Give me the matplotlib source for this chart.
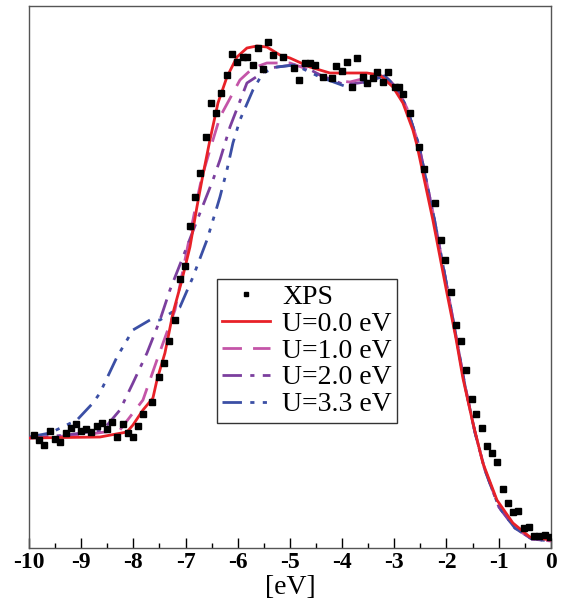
import numpy as np
import matplotlib
matplotlib.use("Agg")
from matplotlib import rcParams

rcParams['font.family'] = 'serif'
rcParams['font.serif'] = ['Liberation Serif', 'DejaVu Serif']
from matplotlib import pyplot as plt
from matplotlib.ticker import MultipleLocator

# XPS spectrum (arbitrary intensity units)
xps_e = [-9.904, -9.808, -9.713, -9.598, -9.502, -9.406, -9.291, -9.195, -9.100, -9.004,
         -8.908, -8.812, -8.697, -8.602, -8.506, -8.410, -8.314, -8.199, -8.103, -8.008,
         -7.912, -7.816, -7.644, -7.510, -7.414, -7.318, -7.203, -7.107, -7.011, -6.916,
         -6.820, -6.724, -6.609, -6.513, -6.418, -6.322, -6.207, -6.111, -6.015, -5.900,
         -5.824, -5.709, -5.613, -5.517, -5.421, -5.326, -5.134, -4.923, -4.828, -4.713,
         -4.617, -4.521, -4.368, -4.195, -4.119, -4.004, -3.908, -3.812, -3.716, -3.602,
         -3.525, -3.410, -3.333, -3.218, -3.123, -2.989, -2.912, -2.835, -2.701, -2.529,
         -2.433, -2.222, -2.107, -2.031, -1.916, -1.820, -1.724, -1.628, -1.513, -1.437,
         -1.322, -1.226, -1.130, -1.034, -0.920, -0.824, -0.728, -0.632, -0.517, -0.421,
         -0.326, -0.230, -0.115, -0.019]
xps_i = [113, 108, 103, 117, 109, 106, 115, 120, 124, 117,
         119, 116, 122, 125, 119, 126, 111, 124, 115, 111,
         122, 134, 146, 171, 185, 207, 228, 269, 282, 322,
         351, 375, 411, 445, 435, 455, 473, 494, 486, 491,
         491, 483, 500, 479, 506, 493, 491, 480, 468, 485,
         485, 483, 471, 470, 482, 477, 486, 461, 490, 471,
         465, 470, 476, 466, 476, 461, 461, 454, 435, 401,
         379, 345, 308, 288, 256, 223, 207, 178, 149, 134,
         120, 102, 95, 86, 59, 45, 36, 37, 20, 21,
         12, 12, 13, 11]

# calculated DOS, U = 0.0 eV
u0_e = [-10.0, -8.640, -8.123, -8.008, -7.816, -7.625, -7.548, -7.395, -7.241, -7.069,
        -6.916, -6.782, -6.686, -6.533, -6.379, -6.207, -6.015, -5.824, -5.632, -5.441,
        -5.192, -5.000, -4.617, -4.234, -3.851, -3.525, -3.276, -3.027, -2.835, -2.644,
        -2.567, -2.261, -1.992, -1.820, -1.686, -1.494, -1.303, -1.034, -0.728, -0.402, 0.0]
u0_i = [110, 111, 116, 123, 138, 150, 168, 195, 235, 268,
        301, 341, 368, 408, 445, 471, 491, 500, 502, 501,
        493, 490, 481, 475, 475, 475, 473, 461, 445, 418,
        403, 328, 255, 210, 170, 125, 85, 48, 25, 11, 8]

# the three U > 0 curves share the high-energy edge
edge_e = [-3.180, -2.951, -2.759, -2.529, -2.222, -1.954, -1.648, -1.456, -1.264, -0.996, -0.690, -0.364, 0.0]
edge_i = [472, 460, 440, 403, 326, 251, 163, 116, 78, 41, 20, 9, 7]

u1_e = [-10.0, -8.966, -8.257, -8.008, -7.816, -7.682, -7.548, -7.203, -7.011, -6.782,
        -6.686, -6.533, -6.341, -5.958, -5.709, -5.441, -5.000, -4.617, -4.234, -3.851, -3.467]
u1_i = [110, 113, 118, 135, 148, 168, 188, 238, 288, 348,
        371, 398, 431, 468, 480, 485, 485, 478, 468, 466, 471]

u2_e = [-10.0, -9.272, -8.582, -8.257, -8.008, -7.739, -7.490, -7.299, -7.050, -6.724,
        -6.475, -6.341, -6.149, -5.824, -5.383, -4.808, -4.425, -3.946, -3.563]
u2_i = [110, 113, 118, 138, 165, 195, 228, 258, 291, 335,
        368, 388, 421, 465, 480, 484, 473, 463, 466]

u3_e = [-10.0, -9.598, -9.080, -8.774, -8.640, -8.314, -8.008, -7.682, -7.490, -7.107,
        -6.858, -6.590, -6.398, -6.341, -6.207, -6.092, -5.958, -5.709, -5.517, -5.249,
        -4.904, -4.425, -3.851, -3.467]
u3_i = [111, 115, 128, 145, 155, 191, 218, 228, 228, 241,
        271, 308, 341, 351, 378, 405, 428, 458, 475, 481,
        483, 471, 460, 468]

xticks = list(range(-10, 1))
labels = ["XPS", "U=0.0 eV", "U=1.0 eV", "U=2.0 eV", "U=3.3 eV"]
colors = ["black", "#e82128", "#c455a8", "#7b3f9e", "#3b4fa5"]


def main():
    fig = plt.figure(figsize=(5.65, 6.06), dpi=100)
    ax = fig.add_axes([0.0513, 0.0957, 0.9237, 0.8944])

    ax.plot(xps_e, xps_i, 's', color=colors[0], markersize=5, label=labels[0], zorder=5)
    ax.plot(u0_e, u0_i, '-', color=colors[1], lw=2.0, label=labels[1], zorder=4)
    ax.plot(u1_e + edge_e, u1_i + edge_i, color=colors[2], lw=2.0,
            dashes=(7, 4), label=labels[2], zorder=3)
    ax.plot(u2_e + edge_e, u2_i + edge_i, color=colors[3], lw=2.0,
            dashes=(7, 3, 1.5, 3), label=labels[3], zorder=3)
    ax.plot(u3_e + edge_e, u3_i + edge_i, color=colors[4], lw=2.0,
            dashes=(7, 3, 1.5, 3, 1.5, 3), label=labels[4], zorder=3)

    ax.set_xlim(-10, 0)
    ax.set_ylim(0, 542)
    ax.set_xticks(xticks)
    ax.set_xticklabels([str(v) for v in xticks], fontweight='bold')
    ax.xaxis.set_minor_locator(MultipleLocator(0.5))
    ax.set_yticks([])
    ax.tick_params(axis='x', which='major', direction='in', length=7, width=1,
                   labelsize=17, pad=3)
    ax.tick_params(axis='x', which='minor', direction='in', length=3.5, width=1)
    for sp in ax.spines.values():
        sp.set_color('#555555')
        sp.set_linewidth(1.0)
    ax.set_xlabel("[eV]", fontsize=20, labelpad=1)

    leg = ax.legend(loc='lower left', bbox_to_anchor=(0.36, 0.231), fontsize=20,
                    frameon=True, fancybox=False, edgecolor='black', borderpad=0.2,
                    labelspacing=0.05, handlelength=1.7, handletextpad=0.45,
                    borderaxespad=0, markerscale=0.6)
    leg.get_frame().set_linewidth(1.0)

    plt.savefig("out.png", dpi=100)


if __name__ == "__main__":
    main()
